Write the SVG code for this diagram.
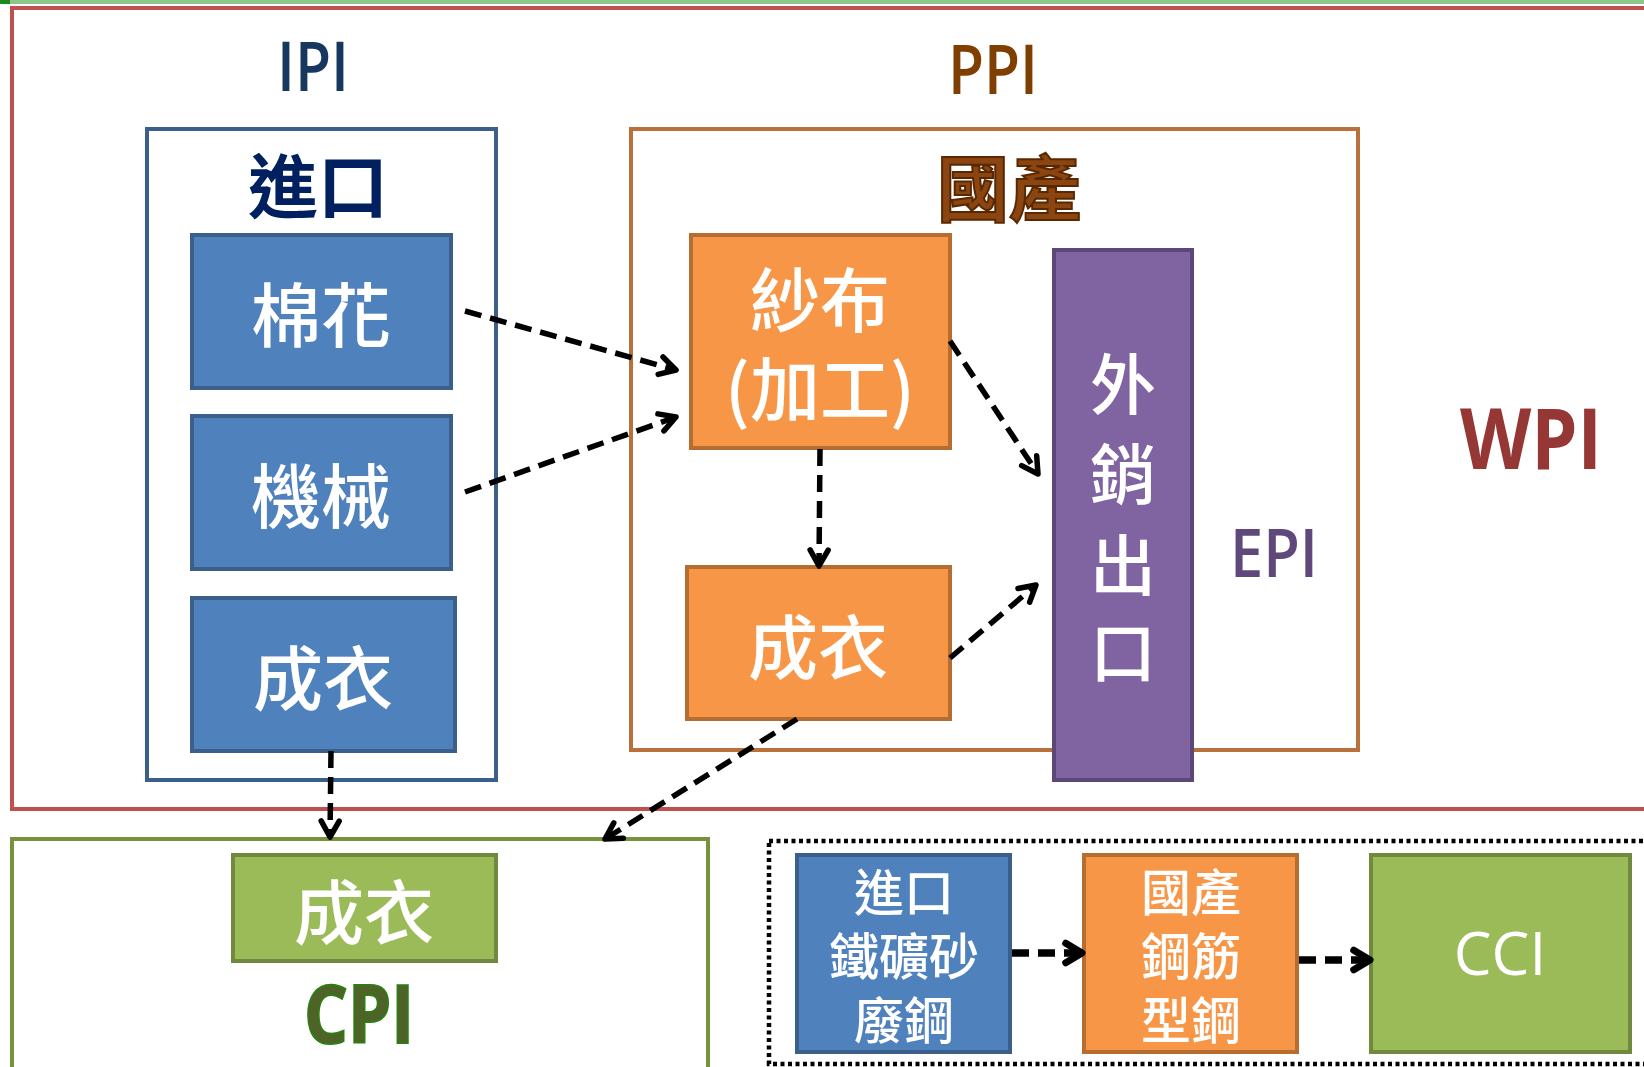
<svg xmlns="http://www.w3.org/2000/svg" width="1644" height="1067" viewBox="0 0 1644 1067">
<defs>
<style>
.cjk{font-family:"Noto Sans CJK TC","Noto Sans",sans-serif;text-anchor:middle;dominant-baseline:central}
.lat{font-family:"Open Sans","Noto Sans",sans-serif;text-anchor:middle}
.w{fill:#fff;font-weight:500}
.blue{fill:#4F81BD;stroke:#3A5F8B;stroke-width:4}
.orange{fill:#F79646;stroke:#B66D31;stroke-width:4}
.green{fill:#9BBB59;stroke:#71893F;stroke-width:4}
.purple{fill:#8064A2;stroke:#5C4776;stroke-width:4}
.conn{fill:none;stroke:#000;stroke-width:5.5;stroke-dasharray:17 9}
.thick{stroke-width:7.5;stroke-dasharray:17 9}
</style>
<marker id="ah" viewBox="0 0 24 24" refX="21" refY="12" markerWidth="24" markerHeight="24" markerUnits="userSpaceOnUse" orient="auto" overflow="visible">
<path d="M5,3 L21,12 L5,21" fill="none" stroke="#000" stroke-width="5.5" stroke-linecap="round" stroke-linejoin="round"/>
</marker>
<marker id="ah2" viewBox="0 0 24 24" refX="21" refY="12" markerWidth="26" markerHeight="26" markerUnits="userSpaceOnUse" orient="auto" overflow="visible">
<path d="M6,3 L21,12 L6,21" fill="none" stroke="#000" stroke-width="6.5" stroke-linecap="round" stroke-linejoin="round"/>
</marker>
</defs>
<rect width="1644" height="1067" fill="#fff"/>
<rect x="0" y="0" width="1644" height="4" fill="#8BC78B"/>
<rect x="0" y="0" width="10" height="4" fill="#1E8A1E"/>

<g id="wpi">
<rect x="12" y="8" width="1640" height="801" fill="none" stroke="#C0504D" stroke-width="4"/>
<text class="lat" x="1531" y="469" font-size="84" font-weight="bold" fill="#953735" textLength="142" lengthAdjust="spacingAndGlyphs">WPI</text>
</g>

<g id="ipi">
<text class="lat" x="313" y="91" font-size="68" font-weight="600" fill="#17375E" textLength="72" lengthAdjust="spacingAndGlyphs">IPI</text>
<rect x="147" y="129" width="349" height="651" fill="none" stroke="#3A5F8B" stroke-width="4"/>
<text class="cjk" x="318" y="182" font-size="70" font-weight="bold" fill="#002060">進口</text>
</g>

<g id="ipi-cotton">
<rect class="blue" x="192" y="235" width="259" height="153"/>
<text class="cjk w" x="321" y="311" font-size="70">棉花</text>
</g>
<g id="ipi-machine">
<rect class="blue" x="192" y="416" width="259" height="153"/>
<text class="cjk w" x="321" y="492" font-size="70">機械</text>
</g>
<g id="ipi-garment">
<rect class="blue" x="192" y="598" width="263" height="153"/>
<text class="cjk w" x="323" y="674" font-size="70">成衣</text>
</g>

<g id="ppi">
<text class="lat" x="993" y="94" font-size="68" font-weight="600" fill="#7F3F00" textLength="90" lengthAdjust="spacingAndGlyphs">PPI</text>
<rect x="631" y="129" width="727" height="621" fill="none" stroke="#B9703A" stroke-width="4"/>
<text class="cjk" x="1009" y="183" font-size="72" font-weight="bold" fill="#8B4510" stroke="#5A2800" stroke-width="2">國產</text>
</g>

<g id="ppi-yarn">
<rect class="orange" x="691" y="235" width="259" height="213"/>
<text class="cjk w" x="820" y="296" font-size="70">紗布</text>
<text class="cjk w" x="820" y="385" font-size="70">(加工)</text>
</g>
<g id="ppi-garment">
<rect class="orange" x="687" y="567" width="263" height="152"/>
<text class="cjk w" x="818" y="643" font-size="70">成衣</text>
</g>

<g id="epi">
<rect class="purple" x="1054" y="250" width="138" height="530"/>
<text class="cjk w" x="1123" y="380" font-size="66">外</text>
<text class="cjk w" x="1123" y="470" font-size="66">銷</text>
<text class="cjk w" x="1123" y="561" font-size="66">出</text>
<text class="cjk w" x="1123" y="648" font-size="66">口</text>
<text class="lat" x="1274" y="577" font-size="67" font-weight="600" fill="#5F497A" textLength="88" lengthAdjust="spacingAndGlyphs">EPI</text>
</g>

<g id="cpi">
<rect x="12" y="839" width="696" height="240" fill="none" stroke="#76923C" stroke-width="4"/>
<rect class="green" x="233" y="855" width="263" height="106"/>
<text class="cjk w" x="364" y="908" font-size="70">成衣</text>
<text class="lat" x="359" y="1043" font-size="80" font-weight="bold" fill="#4F6228" stroke="#2E7D14" stroke-width="2" textLength="110" lengthAdjust="spacingAndGlyphs">CPI</text>
</g>

<g id="cci-group">
<rect x="769" y="841" width="890" height="223" fill="none" stroke="#000" stroke-width="4.5" stroke-dasharray="4 3.5"/>
</g>
<g id="cci-import">
<rect class="blue" x="797" y="855" width="213" height="197"/>
<text class="cjk w" x="904" y="889" font-size="50" font-weight="bold">進口</text>
<text class="cjk w" x="904" y="953" font-size="50" font-weight="bold">鐵礦砂</text>
<text class="cjk w" x="904" y="1017" font-size="50" font-weight="bold">廢鋼</text>
</g>
<g id="cci-domestic">
<rect class="orange" x="1084" y="855" width="213" height="197"/>
<text class="cjk w" x="1191" y="889" font-size="50" font-weight="bold">國產</text>
<text class="cjk w" x="1191" y="953" font-size="50" font-weight="bold">鋼筋</text>
<text class="cjk w" x="1191" y="1017" font-size="50" font-weight="bold">型鋼</text>
</g>
<g id="cci">
<rect class="green" x="1371" y="855" width="259" height="197"/>
<text class="lat w" x="1500" y="975" font-size="60" font-weight="normal">CCI</text>
</g>

<g id="connectors">
<line class="conn" x1="465" y1="311" x2="676" y2="370" marker-end="url(#ah)"/>
<line class="conn" x1="465" y1="492" x2="676" y2="417" marker-end="url(#ah)"/>
<line class="conn" x1="950" y1="341" x2="1038" y2="474" marker-end="url(#ah)"/>
<line class="conn" x1="820" y1="449" x2="819" y2="566" stroke-dasharray="26 14" marker-end="url(#ah)"/>
<line class="conn" x1="950" y1="658" x2="1036" y2="585" marker-end="url(#ah)"/>
<line class="conn" x1="797" y1="719" x2="605" y2="839" marker-end="url(#ah)"/>
<line class="conn" x1="331" y1="751" x2="330" y2="837" marker-end="url(#ah)"/>
<line class="conn thick" x1="1012" y1="953" x2="1082" y2="953" marker-end="url(#ah2)"/>
<line class="conn thick" x1="1299" y1="960" x2="1370" y2="960" marker-end="url(#ah2)"/>
</g>
</svg>
